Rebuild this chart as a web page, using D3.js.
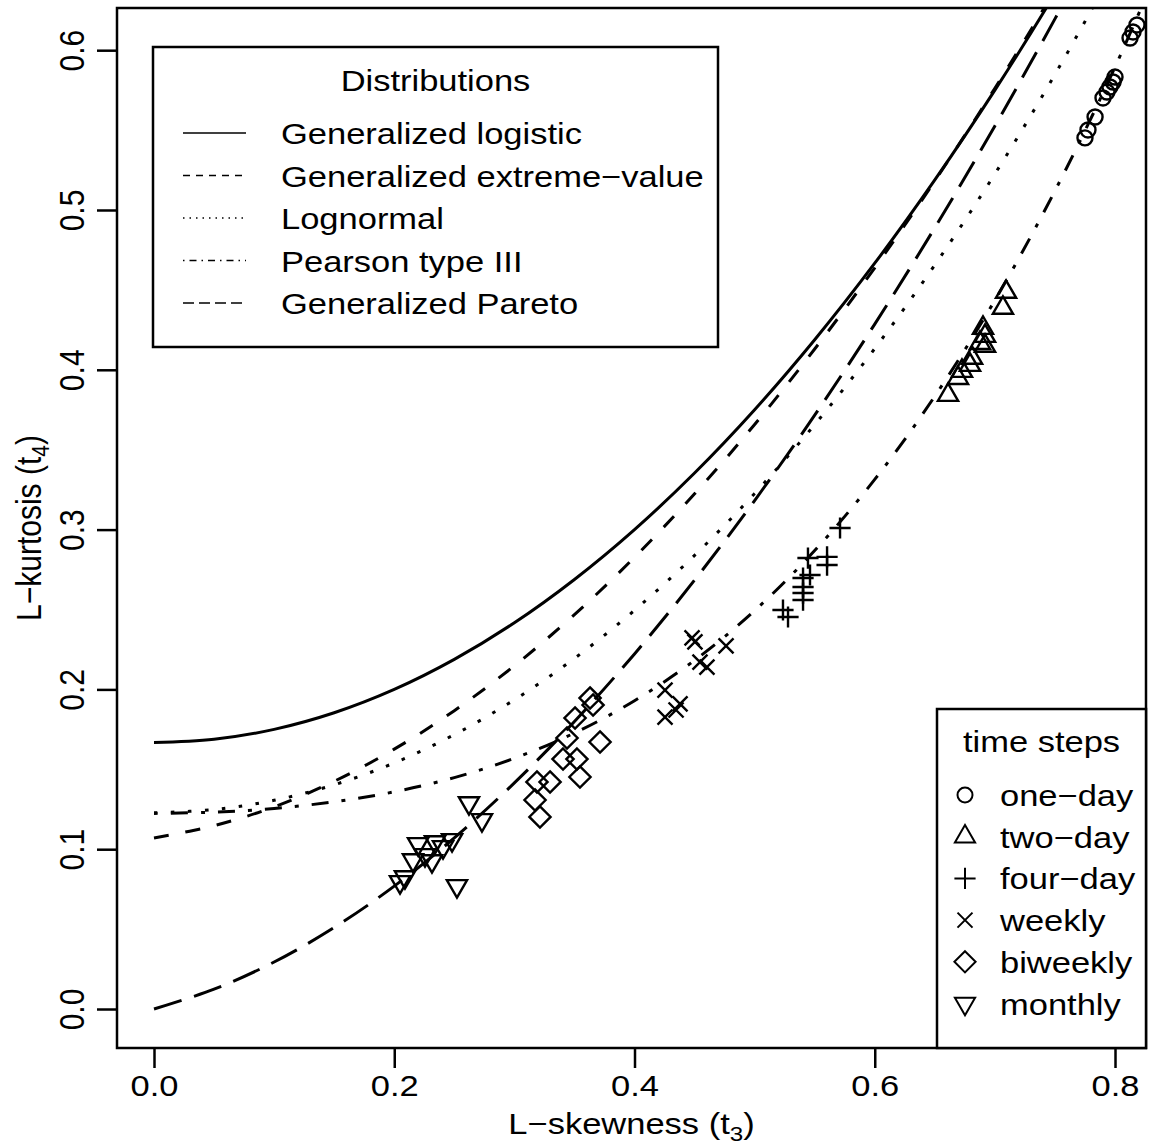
<!DOCTYPE html>
<html>
<head>
<meta charset="utf-8">
<script src="https://cdn.jsdelivr.net/npm/d3@7"></script>
<style>
body { margin: 0; background: #fff; }
text { font-family: "Liberation Sans", Arial, Helvetica, sans-serif; fill: #000; }
</style>
</head>
<body>
<script>
var width = 1152, height = 1146;

// theoretical L-moment ratio curves, t4 read at these t3 values
var t3Grid = [0, 0.05, 0.10, 0.15, 0.20, 0.25, 0.30, 0.35, 0.40, 0.45, 0.50, 0.55, 0.60, 0.65, 0.70, 0.75, 0.80, 0.85];
var gloT4 = [0.1667, 0.1688, 0.1750, 0.1854, 0.2000, 0.2188, 0.2417, 0.2688, 0.3000, 0.3354, 0.3750, 0.4188, 0.4667, 0.5188, 0.5750, 0.6354, 0.7000, 0.7688];
var gevT4 = [0.1070, 0.1147, 0.1265, 0.1425, 0.1626, 0.1867, 0.2148, 0.2468, 0.2827, 0.3224, 0.3658, 0.4130, 0.4638, 0.5182, 0.5762, 0.6378, 0.7029, 0.7718];
var lnT4  = [0.1228, 0.1248, 0.1306, 0.1403, 0.1540, 0.1717, 0.1935, 0.2194, 0.2495, 0.2839, 0.3226, 0.3657, 0.4133, 0.4656, 0.5226, 0.5848, 0.6526, 0.7265];
var pe3T4 = [0.1224, 0.1232, 0.1255, 0.1297, 0.1359, 0.1448, 0.1569, 0.1727, 0.1929, 0.2182, 0.2493, 0.2869, 0.3314, 0.3835, 0.4435, 0.5120, 0.5894, 0.6761];
var gpaT4 = [0, 0.0124, 0.0294, 0.0510, 0.0769, 0.1071, 0.1415, 0.1799, 0.2222, 0.2684, 0.3182, 0.3716, 0.4286, 0.4889, 0.5526, 0.6196, 0.6897, 0.7628];
var distNames = ["Generalized logistic", "Generalized extreme\u2212value", "Lognormal", "Pearson type III", "Generalized Pareto"];

// sample L-moment ratios [t3, t4] per time step
var oneDay = [[0.8183, 0.6158], [0.8150, 0.6114], [0.8125, 0.6076], [0.8000, 0.5832], [0.7984, 0.5801], [0.7958, 0.5770],
              [0.7933, 0.5738], [0.7900, 0.5701], [0.7834, 0.5582], [0.7775, 0.5501], [0.7750, 0.5451]];
var twoDay = [[0.7093, 0.4487], [0.7067, 0.4387], [0.6901, 0.4261], [0.6918, 0.4211], [0.6876, 0.4167], [0.6918, 0.4149],
              [0.6810, 0.4074], [0.6793, 0.4030], [0.6726, 0.3992], [0.6693, 0.3948], [0.6610, 0.3842]];
var fourDay = [[0.5711, 0.3010], [0.5603, 0.2829], [0.5603, 0.2778], [0.5444, 0.2822], [0.5403, 0.2697], [0.5461, 0.2716],
               [0.5403, 0.2641], [0.5403, 0.2603], [0.5403, 0.2559], [0.5236, 0.2497], [0.5278, 0.2453]];
var weekly = [[0.4479, 0.2322], [0.4503, 0.2297], [0.4762, 0.2272], [0.4545, 0.2171], [0.4603, 0.2140], [0.4254, 0.1996],
              [0.4379, 0.1909], [0.4346, 0.1871], [0.4254, 0.1827]];
var biweekly = [[0.3630, 0.1946], [0.3655, 0.1902], [0.3505, 0.1821], [0.3713, 0.1671], [0.3438, 0.1696], [0.3405, 0.1564],
                [0.3521, 0.1564], [0.3546, 0.1452], [0.3297, 0.1421], [0.3188, 0.1421], [0.3172, 0.1308], [0.3213, 0.1202]];
var monthly = [[0.2622, 0.1289], [0.2730, 0.1183], [0.2522, 0.0770], [0.2198, 0.1033], [0.2339, 0.1045], [0.2481, 0.1058],
               [0.2156, 0.0932], [0.2314, 0.0926], [0.2048, 0.0795], [0.2089, 0.0826], [0.2406, 0.1014], [0.2256, 0.0964]];
var stepNames = ["one\u2212day", "two\u2212day", "four\u2212day", "weekly", "biweekly", "monthly"];

var xTicks = [0, 0.2, 0.4, 0.6, 0.8];
var yTicks = [0, 0.1, 0.2, 0.3, 0.4, 0.5, 0.6];

var sx = 1.15;      // text in the figure is stretched sideways
var fs = 30;
var L = 117, R = 1146, T = 8, B = 1048;

var svg = d3.select("body").append("svg")
            .attr("width", width)
            .attr("height", height);

var x = d3.scaleLinear().domain([-0.0308, 0.8258]).range([L, R]);
var y = d3.scaleLinear().domain([-0.0244, 0.6264]).range([B, T]);

svg.append("clipPath").attr("id", "plotclip")
   .append("rect").attr("x", L).attr("y", T).attr("width", R - L).attr("height", B - T);

// R style plotting symbols (pch 1..6), unit g
var g0 = 20;
function pch(n) {
    return {draw: function(c) {
        var r, xc;
        if (n == 1) { r = 0.375 * g0; c.moveTo(r, 0); c.arc(0, 0, r, 0, 2 * Math.PI); }
        if (n == 2 || n == 6) {
            r = 0.583 * g0; xc = 0.866 * r;
            var s = n == 2 ? 1 : -1;
            c.moveTo(0, -s * r); c.lineTo(xc, s * r / 2); c.lineTo(-xc, s * r / 2); c.closePath();
        }
        if (n == 3) { xc = 0.53 * g0; c.moveTo(-xc, 0); c.lineTo(xc, 0); c.moveTo(0, -xc); c.lineTo(0, xc); }
        if (n == 4) { xc = 0.375 * g0; c.moveTo(-xc, -xc); c.lineTo(xc, xc); c.moveTo(-xc, xc); c.lineTo(xc, -xc); }
        if (n == 5) { xc = 0.53 * g0; c.moveTo(0, -xc); c.lineTo(xc, 0); c.lineTo(0, xc); c.lineTo(-xc, 0); c.closePath(); }
    }};
}

// curves
var curves = [
    {t4: gloT4, dash: null, leg: null},
    {t4: gevT4, dash: "15,17", leg: "7,6"},
    {t4: lnT4, dash: "3.5,13.5", leg: "1.5,5"},
    {t4: pe3T4, dash: "4,13,17,13", leg: "1.5,5,7,5"},
    {t4: gpaT4, dash: "29,13", leg: "11,5"}
];

var line = d3.line()
    .x(function(d, i) { return x(t3Grid[i]); })
    .y(function(d) { return y(d); })
    .curve(d3.curveCatmullRom);

var plot = svg.append("g").attr("clip-path", "url(#plotclip)");
plot.selectAll("path.curve")
    .data(curves)
    .enter()
    .append("path")
    .attr("class", "curve")
    .attr("d", function(d) { return line(d.t4); })
    .attr("fill", "none")
    .attr("stroke", "#000")
    .attr("stroke-width", 3)
    .attr("stroke-dasharray", function(d) { return d.dash; });

// points
var groups = [oneDay, twoDay, fourDay, weekly, biweekly, monthly];
groups.forEach(function(pts, k) {
    plot.selectAll("path.p" + k)
        .data(pts)
        .enter()
        .append("path")
        .attr("class", "p" + k)
        .attr("transform", function(d) { return "translate(" + x(d[0]) + "," + y(d[1]) + ")"; })
        .attr("d", d3.symbol().type(pch(k + 1)))
        .attr("fill", "none")
        .attr("stroke", "#000")
        .attr("stroke-width", 2.4);
});

// axes
var xAxis = svg.append("g")
    .attr("transform", "translate(0," + B + ")")
    .call(d3.axisBottom(x).tickValues(xTicks).tickFormat(d3.format(".1f")).tickSize(20));
var yAxis = svg.append("g")
    .attr("transform", "translate(" + L + ",0)")
    .call(d3.axisLeft(y).tickValues(yTicks).tickFormat(d3.format(".1f")).tickSize(20));

[xAxis, yAxis].forEach(function(a) {
    a.select(".domain").remove();
    a.selectAll(".tick line").attr("stroke", "#000").attr("stroke-width", 2.5);
    a.selectAll(".tick text").attr("font-size", fs).attr("fill", "#000");
});
xAxis.selectAll(".tick text")
    .attr("y", 48).attr("dy", 0)
    .attr("transform", "scale(" + sx + ",1)");
yAxis.selectAll(".tick text")
    .attr("x", 0).attr("y", -33 / sx).attr("dy", 0)
    .attr("text-anchor", "middle")
    .attr("transform", "scale(" + sx + ",1) rotate(-90)");

svg.append("rect")
   .attr("x", L).attr("y", T).attr("width", R - L).attr("height", B - T)
   .attr("fill", "none").attr("stroke", "#000").attr("stroke-width", 2.5);

// axis titles
function subTitle(g, main, sub) {
    var t = g.append("text").attr("font-size", fs).attr("text-anchor", "middle");
    t.append("tspan").text(main + " (t");
    t.append("tspan").attr("font-size", 21).attr("dy", 7).text(sub);
    t.append("tspan").attr("dy", -7).text(")");
    return t;
}
subTitle(svg.append("g").attr("transform", "translate(" + ((L + R) / 2) + ",1134) scale(" + sx + ",1)"),
         "L\u2212skewness", "3");
subTitle(svg.append("g").attr("transform", "translate(41," + ((T + B) / 2) + ") scale(" + sx + ",1) rotate(-90)"),
         "L\u2212kurtosis", "4");

// legend: distributions
var leg1 = svg.append("g");
leg1.append("rect").attr("x", 153).attr("y", 47).attr("width", 565).attr("height", 300)
    .attr("fill", "#fff").attr("stroke", "#000").attr("stroke-width", 2.5);
leg1.append("text").attr("font-size", fs).attr("text-anchor", "middle")
    .attr("transform", "translate(435.5,91) scale(" + sx + ",1)")
    .text("Distributions");
var rows1 = leg1.selectAll("g.row")
    .data(curves)
    .enter()
    .append("g")
    .attr("class", "row")
    .attr("transform", function(d, i) { return "translate(0," + (133 + 42.5 * i) + ")"; });
rows1.append("line")
    .attr("x1", 183).attr("x2", 246)
    .attr("stroke", "#000").attr("stroke-width", 1.3)
    .attr("stroke-dasharray", function(d) { return d.leg; });
rows1.append("text")
    .attr("font-size", fs)
    .attr("transform", "translate(281,11) scale(" + sx + ",1)")
    .text(function(d, i) { return distNames[i]; });

// legend: time steps
var leg2 = svg.append("g");
leg2.append("rect").attr("x", 937).attr("y", 709).attr("width", R - 937).attr("height", B - 709)
    .attr("fill", "#fff").attr("stroke", "#000").attr("stroke-width", 2.5);
leg2.append("text").attr("font-size", fs).attr("text-anchor", "middle")
    .attr("transform", "translate(" + ((937 + R) / 2) + ",752) scale(" + sx + ",1)")
    .text("time steps");
var rows2 = leg2.selectAll("g.row")
    .data(stepNames)
    .enter()
    .append("g")
    .attr("class", "row")
    .attr("transform", function(d, i) { return "translate(0," + (795 + 41.7 * i) + ")"; });
rows2.append("path")
    .attr("transform", "translate(965,0)")
    .attr("d", function(d, i) { return d3.symbol().type(pch(i + 1))(); })
    .attr("fill", "none").attr("stroke", "#000").attr("stroke-width", 2);
rows2.append("text")
    .attr("font-size", fs)
    .attr("transform", "translate(1000,11) scale(" + sx + ",1)")
    .text(function(d) { return d; });
</script>
</body>
</html>
